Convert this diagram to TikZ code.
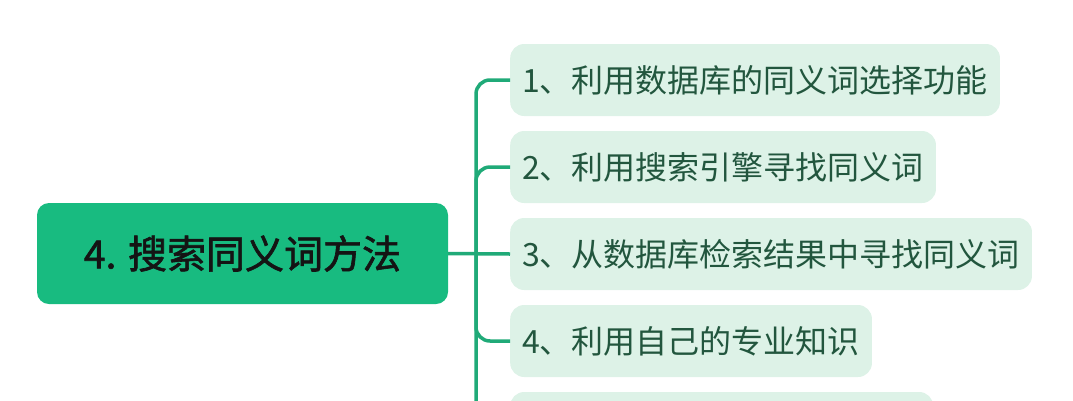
\documentclass[tikz,border=0pt]{standalone}
\usepackage{fontspec}
\setmainfont{Noto Sans CJK SC}
\newfontfamily\rootfont{Noto Sans CJK SC}[FakeBold=1.6]
\usetikzlibrary{shapes}
\definecolor{rootgreen}{RGB}{24,187,128}
\definecolor{leafmint}{RGB}{221,242,231}
\definecolor{linkgreen}{RGB}{32,170,120}
\definecolor{leaftext}{RGB}{34,86,62}
\tikzset{
  rootbox/.style={fill=rootgreen, rounded corners=12pt, minimum width=411pt, minimum height=101pt,
    font=\rootfont\fontsize{39}{41}\selectfont, text=black!92},
  leafbox/.style={fill=leafmint, rounded corners=14pt, anchor=west, minimum height=72pt,
    inner xsep=12pt, font=\fontsize{32}{34}\selectfont, text=leaftext},
  link/.style={draw=linkgreen, line width=3.5pt, rounded corners=14pt}
}

\begin{document}
\begin{tikzpicture}[x=1pt, y=-1pt]

  \useasboundingbox (0,0) rectangle (1073,400);

  \newcommand\Row{87}
  \newcommand\Mid{254}

  \node[rootbox] (root) at (242.5, 253.5) {4. 搜索同义词方法};

  \node[leafbox] (l1) at (510, \Mid-2*\Row) {1、利用数据库的同义词选择功能};
  \node[leafbox] (l2) at (510, \Mid-1*\Row) {2、利用搜索引擎寻找同义词};
  \node[leafbox] (l3) at (510, \Mid+0*\Row) {3、从数据库检索结果中寻找同义词};
  \node[leafbox] (l4) at (510, \Mid+1*\Row) {4、利用自己的专业知识};
  \node[leafbox, minimum width=423pt] (l5) at (510, \Mid+2*\Row) {};

  \coordinate (fork) at (476, \Mid);

  \draw[link] (root.east) -- (l3.west); %% root->3
  \draw[link] (fork) |- (l1.west);
  \draw[link] (fork) |- (l2.west);
  \draw[link] (fork) |- (l4.west);
  \draw[link] (fork) |- (l5.west);
\end{tikzpicture}
\end{document}
